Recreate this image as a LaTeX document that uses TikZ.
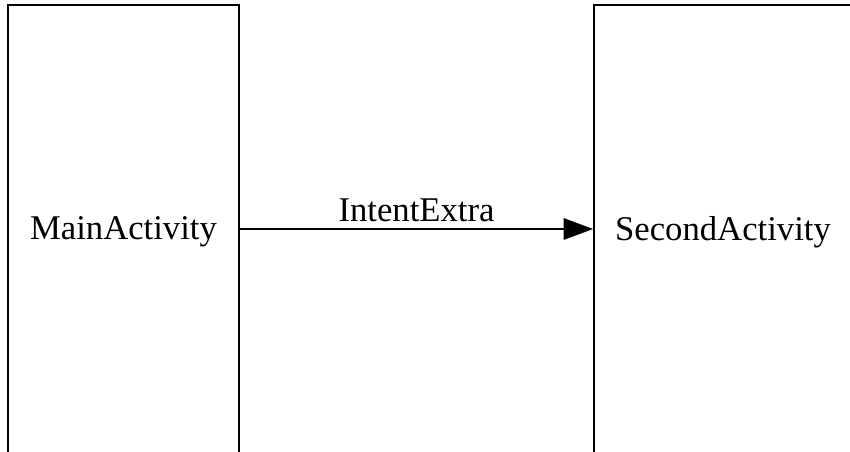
\documentclass[tikz,border=0pt]{standalone}
\usepackage{fontspec}
\setmainfont{Liberation Serif}
\usetikzlibrary{arrows.meta}
\begin{document}
\begin{tikzpicture}[x=0.75pt,y=-0.75pt,
  actbox/.style={draw=black, line width=1.4pt, rectangle, inner sep=0pt, font=\fontsize{26}{31}\selectfont},
  link/.style={draw=black, line width=1.4pt, -{Triangle[length=22pt,width=16pt]}},
  lbl/.style={font=\fontsize{26}{31}\selectfont, inner sep=2pt, yshift=2.5pt}]
\clip (0,0) rectangle (850,452);
\node[actbox, minimum width=173.25pt, minimum height=340.5pt] (main) at (123.5,232) {MainActivity};
\node[actbox, minimum width=193.5pt, minimum height=340.5pt] (second) at (723,232) {SecondActivity};
\draw[link] ([yshift=2.25pt]main.east) -- node[lbl, above] (lab) {IntentExtra} ([yshift=2.25pt]second.west);
\end{tikzpicture}
\end{document}
